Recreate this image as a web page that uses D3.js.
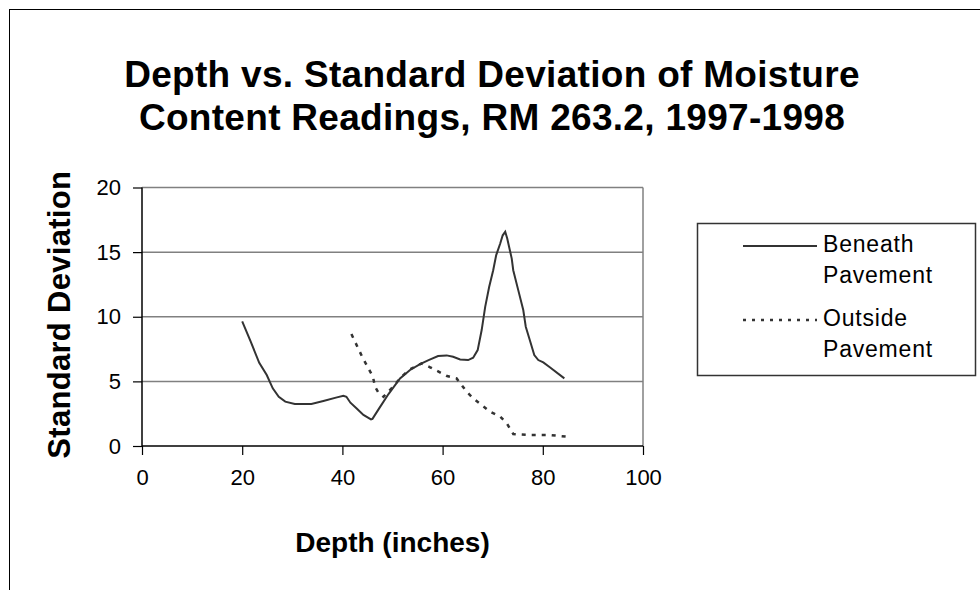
<!DOCTYPE html>
<html>
<head>
<meta charset="utf-8">
<script src="https://cdn.jsdelivr.net/npm/d3@7"></script>
<style>
  body { margin: 0; background: #fff; }
  text { font-family: "Liberation Sans", Arial, sans-serif; fill: #000; }
</style>
</head>
<body>
<div id="graph"></div>
<script>
// data
var beneathDepth = [20, 21.7, 23.4, 24.9, 26.1, 27.3, 28.6, 30.5, 33.8, 36.2, 38.9, 40.2, 40.8, 41.6, 42.8, 44.2, 45.7, 46.0, 47.4, 49.2, 51.5, 53.5, 55.5, 57.2, 59.1, 60.8, 62.1, 63.5, 65.1, 66.1, 67.0, 67.8, 68.5, 69.3, 70.1, 70.7, 71.5, 72.0, 72.5, 72.9, 73.8, 74.1, 75.1, 76.1, 76.6, 77.4, 78.3, 79.1, 80.1, 81.4, 84.3];
var beneathSD = [9.64, 8.07, 6.44, 5.49, 4.46, 3.81, 3.43, 3.25, 3.25, 3.48, 3.76, 3.89, 3.81, 3.35, 2.92, 2.40, 2.06, 2.1, 2.95, 4.02, 5.23, 5.88, 6.34, 6.65, 6.96, 7.01, 6.9, 6.7, 6.65, 6.83, 7.42, 8.97, 10.77, 12.32, 13.6, 14.77, 15.67, 16.3, 16.57, 16.06, 14.5, 13.6, 12.06, 10.52, 9.23, 8.2, 7.04, 6.65, 6.47, 6.09, 5.23];

var outsideDepth = [41.8, 44.0, 46.1, 46.5, 47.2, 48.2, 49.8, 51.8, 53.5, 55.8, 57.5, 60.9, 62.8, 64.8, 66.1, 69.5, 71.5, 72.8, 74.1, 77.4, 81.4, 84.9];
var outsideSD = [8.66, 6.86, 5.36, 4.59, 4.12, 3.81, 4.46, 5.36, 5.93, 6.39, 6.09, 5.41, 5.23, 4.2, 3.69, 2.65, 2.27, 1.76, 0.93, 0.85, 0.85, 0.72];

var xTicks = [0, 20, 40, 60, 80, 100];
var yTicks = [0, 5, 10, 15, 20];
var titleLines = ["Depth vs. Standard Deviation of Moisture", "Content Readings, RM 263.2, 1997-1998"];
var seriesNames = [["Beneath", "Pavement"], ["Outside", "Pavement"]];

// plot area
var margin = {top: 187.5, left: 142},
    width = 501,
    height = 258.5;

var x = d3.scaleLinear().domain([0, 100]).range([0, width]);
var y = d3.scaleLinear().domain([0, 20]).range([height, 0]);

var svg = d3.select("#graph").append("svg")
    .attr("width", 980)
    .attr("height", 590);

// chart border
svg.append("rect")
    .attr("x", 9.5).attr("y", 9.5)
    .attr("width", 1000).attr("height", 1000)
    .style("fill", "none").style("stroke", "#000").style("stroke-width", 1);

// title
svg.append("g").selectAll("text")
    .data(titleLines)
  .enter().append("text")
    .attr("x", 492)
    .attr("y", function(d, i) { return 87 + i * 43; })
    .attr("text-anchor", "middle")
    .style("font-size", "37px")
    .style("font-weight", "bold")
    .style("letter-spacing", "0.3px")
    .text(function(d) { return d; });

var g = svg.append("g")
    .attr("transform", "translate(" + margin.left + "," + margin.top + ")");

// gridlines
g.append("g").selectAll("line")
    .data(yTicks.slice(1))
  .enter().append("line")
    .attr("x1", 0).attr("x2", width)
    .attr("y1", function(d) { return y(d); })
    .attr("y2", function(d) { return y(d); })
    .style("stroke", "#808080").style("stroke-width", 1.5);

// right edge of plot area
g.append("line")
    .attr("x1", width).attr("x2", width)
    .attr("y1", 0).attr("y2", height)
    .style("stroke", "#808080").style("stroke-width", 1.5);

// axes
var xAxis = g.append("g")
    .attr("transform", "translate(0," + height + ")")
    .call(d3.axisBottom(x).tickValues(xTicks).tickSize(9).tickPadding(14));
var yAxis = g.append("g")
    .call(d3.axisLeft(y).tickValues(yTicks).tickSize(9).tickPadding(12));

[xAxis, yAxis].forEach(function(a) {
  a.select(".domain").style("stroke", "#000").style("stroke-width", 1.5);
  a.selectAll(".tick line").style("stroke", "#000").style("stroke-width", 1.2);
  a.selectAll(".tick text")
      .style("font-size", "22px")
      .style("font-family", "'Liberation Sans', Arial, sans-serif")
      .style("fill", "#000");
});
yAxis.select(".domain").attr("d", "M0," + height + "V0");
xAxis.select(".domain").attr("d", "M0,0H" + width);

// lines
var line = d3.line()
    .x(function(d) { return x(d[0]); })
    .y(function(d) { return y(d[1]); });

g.append("path")
    .datum(outsideDepth.map(function(d, i) { return [d, outsideSD[i]]; }))
    .attr("d", line)
    .style("fill", "none")
    .style("stroke", "#333")
    .style("stroke-width", 2.5)
    .style("stroke-dasharray", "4,6");

g.append("path")
    .datum(beneathDepth.map(function(d, i) { return [d, beneathSD[i]]; }))
    .attr("d", line)
    .style("fill", "none")
    .style("stroke", "#333")
    .style("stroke-width", 2);

// axis titles
svg.append("text")
    .attr("x", margin.left + width / 2)
    .attr("y", 552)
    .attr("text-anchor", "middle")
    .style("font-size", "28px")
    .style("font-weight", "bold")
    .text("Depth (inches)");

svg.append("text")
    .attr("transform", "translate(70," + (margin.top + height / 2 - 2) + ") rotate(-90)")
    .attr("text-anchor", "middle")
    .style("font-size", "31px")
    .style("font-weight", "bold")
    .style("letter-spacing", "0.3px")
    .text("Standard Deviation");

// legend
var legend = svg.append("g");
legend.append("rect")
    .attr("x", 697.5).attr("y", 223.5)
    .attr("width", 278).attr("height", 152)
    .style("fill", "#fff").style("stroke", "#333").style("stroke-width", 1.5);

var legendItems = legend.selectAll(".item")
    .data(seriesNames)
  .enter().append("g")
    .attr("class", "item")
    .attr("transform", function(d, i) { return "translate(0," + (i * 74) + ")"; });

legendItems.append("line")
    .attr("x1", 743).attr("x2", 817)
    .attr("y1", 246).attr("y2", 246)
    .style("stroke", "#333")
    .style("stroke-width", function(d, i) { return i ? 2.5 : 2; })
    .style("stroke-dasharray", function(d, i) { return i ? "3,6" : null; });

legendItems.selectAll("text")
    .data(function(d) { return d; })
  .enter().append("text")
    .attr("x", 823)
    .attr("y", function(d, j) { return 252 + j * 31; })
    .style("font-size", "23px")
    .style("letter-spacing", "0.8px")
    .text(function(d) { return d; });
</script>
</body>
</html>
